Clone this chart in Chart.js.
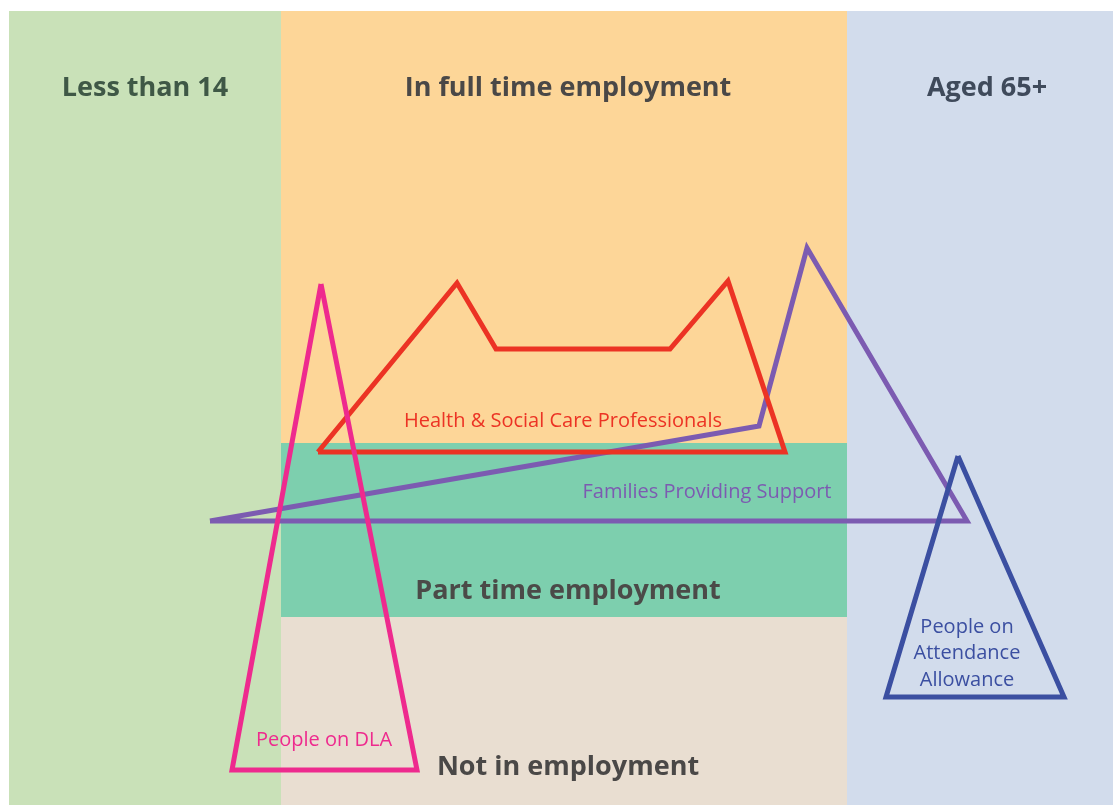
<!DOCTYPE html>
<html>
<head>
<meta charset="utf-8">
<script src="https://cdn.jsdelivr.net/npm/chart.js@4"></script>
<style>
  html, body { margin: 0; background: #fff; }
  #wrap { width: 1113px; height: 805px; }
</style>
</head>
<body>
<div id="wrap"><canvas id="chart"></canvas></div>
<script>
// grid of the diagram (same units as the axes)
const colEdges = [9, 281, 847, 1113];
const rowEdges = [11, 443, 617, 805];

// background zones: [x0, x1, y0, y1] as indexes into the edges
const zoneNames = ["Less than 14", "In full time employment", "Part time employment", "Not in employment", "Aged 65+"];
const zoneCells = [[0, 1, 0, 3], [1, 2, 0, 1], [1, 2, 1, 2], [1, 2, 2, 3], [2, 3, 0, 3]];
const zoneColors = ["#c9e1b8", "#fdd698", "#7dcfae", "#e9ded1", "#d2dcec"];
const zoneLabelX = [145, 568, 568, 568, 987];
const zoneLabelY = [88, 88, 591, 767, 88];

// groups drawn as outlines
const groupNames = ["Families Providing Support", "Health & Social Care Professionals", "People on DLA", "People on Attendance Allowance"];
const familiesX = [210, 759, 807, 967, 210];
const familiesY = [521, 426, 248, 521, 521];
const healthX = [318, 457, 496, 670, 728, 785, 318];
const healthY = [452, 283, 349, 349, 281, 452, 452];
const dlaX = [321, 417, 232, 321];
const dlaY = [284, 770, 770, 284];
const attendanceX = [958, 1064, 886, 958];
const attendanceY = [456, 697, 697, 456];
const groupColors = ["#7c5bb1", "#ec3324", "#ee2a8e", "#3b4fa1"];
const groupLabelX = [707, 563, 324, 967];
const groupLabelY = [492, 421, 740, 627];

const pts = (xs, ys) => xs.map((x, i) => ({ x: x, y: ys[i] }));
const groupPoints = [pts(familiesX, familiesY), pts(healthX, healthY), pts(dlaX, dlaY), pts(attendanceX, attendanceY)];

const zonesPlugin = {
    id: "zones",
    beforeDatasetsDraw(chart) {
        const ctx = chart.ctx;
        const sx = chart.scales.x, sy = chart.scales.y;
        ctx.save();
        zoneCells.forEach((c, i) => {
            const x0 = sx.getPixelForValue(colEdges[c[0]]);
            const x1 = sx.getPixelForValue(colEdges[c[1]]);
            const y0 = sy.getPixelForValue(rowEdges[c[2]]);
            const y1 = sy.getPixelForValue(rowEdges[c[3]]);
            ctx.fillStyle = zoneColors[i];
            ctx.fillRect(x0, y0, x1 - x0, y1 - y0);
        });
        ctx.textAlign = "center";
        ctx.textBaseline = "middle";
        ctx.font = "bold 27px 'Open Sans'";
        const headColors = ["#3f5846", "#4a4847", "#4b4a48", "#4a4847", "#3f4a5b"];
        zoneNames.forEach((n, i) => {
            ctx.fillStyle = headColors[i];
            ctx.fillText(n, sx.getPixelForValue(zoneLabelX[i]), sy.getPixelForValue(zoneLabelY[i]));
        });
        ctx.font = "20px 'Open Sans'";
        groupNames.forEach((n, i) => {
            ctx.fillStyle = groupColors[i];
            const x = sx.getPixelForValue(groupLabelX[i]);
            const y = sy.getPixelForValue(groupLabelY[i]);
            if (i === 3) {
                ["People on", "Attendance", "Allowance"].forEach((l, k) => ctx.fillText(l, x, y + k * 26.5));
            } else {
                ctx.fillText(n, x, y);
            }
        });
        ctx.restore();
    }
};

new Chart(document.getElementById("chart"), {
    type: "scatter",
    data: {
        datasets: groupNames.map((n, i) => ({
            label: n,
            data: groupPoints[i],
            showLine: true,
            borderColor: groupColors[i],
            borderWidth: 5,
            borderJoinStyle: "miter",
            pointRadius: 0,
            fill: false,
            tension: 0,
            order: 4 - i
        }))
    },
    options: {
        responsive: true,
        maintainAspectRatio: false,
        animation: false,
        layout: { padding: 0 },
        scales: {
            x: { type: "linear", min: 0, max: 1113, display: false },
            y: { type: "linear", min: 0, max: 805, reverse: true, display: false }
        },
        plugins: {
            legend: { display: false },
            tooltip: { enabled: false }
        },
        clip: false
    },
    plugins: [zonesPlugin]
});
</script>
</body>
</html>
